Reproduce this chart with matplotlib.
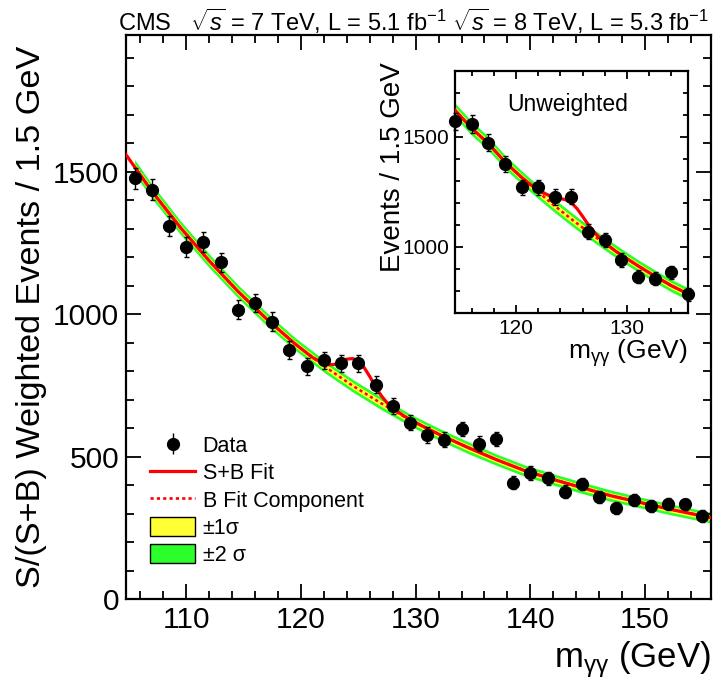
import numpy as np
import matplotlib
matplotlib.use("Agg")
import matplotlib.pyplot as plt
from matplotlib.ticker import MultipleLocator
from matplotlib.patches import Patch

plt.rcParams['font.family'] = ['Liberation Sans', 'DejaVu Sans']
plt.rcParams['mathtext.fontset'] = 'custom'
plt.rcParams['mathtext.rm'] = 'Liberation Sans'
plt.rcParams['mathtext.it'] = 'Liberation Sans:italic'
plt.rcParams['mathtext.bf'] = 'Liberation Sans:bold'

RED = '#ff0000'
YELLOW = '#ffff33'
GREEN = '#2bff2b'

# ---- main panel: S/(S+B) weighted data, 1.5 GeV bins
mass = [105.5, 107, 108.5, 110, 111.5, 113, 114.5, 116, 117.5, 119, 120.5, 122,
        123.5, 125, 126.5, 128, 129.5, 131, 132.5, 134, 135.5, 137, 138.5, 140,
        141.5, 143, 144.5, 146, 147.5, 149, 150.5, 152, 153.5, 155]
weighted = [1478, 1437, 1310, 1236, 1253, 1183, 1017, 1040, 975, 876, 818, 839,
            828, 828, 754, 679, 620, 577, 560, 598, 546, 562, 410, 443,
            425, 378, 405, 359, 320, 348, 328, 335, 334, 293]
weighted_err = [37, 37, 36, 35, 35, 34, 33, 33, 32, 31, 30, 30,
                30, 30, 29, 28, 27, 27, 26, 26, 26, 25, 24, 24,
                23, 23, 22, 22, 21, 21, 21, 20, 20, 20]

# background fit component and its uncertainty
bkg_x = [105.5, 107, 109.5, 112, 114.5, 117, 119.5, 122, 124.5, 127, 129.5, 132,
         134.5, 137, 139.5, 142, 144.5, 147, 149.5, 152, 154.5, 155.75]
bkg = [1517, 1432, 1304, 1188, 1081, 984, 896, 819, 750, 688, 630, 580,
       534, 491, 452, 421, 392, 364, 341, 318, 297, 287]
bkg_1s = [13, 13, 12, 12, 12, 12, 11, 11, 11, 11, 11, 11,
          11, 10, 10, 10, 10, 10, 10, 10, 10, 10]
bkg_2s = [26, 25, 24, 24, 23, 23, 22, 22, 22, 22, 21, 21,
          21, 20, 20, 20, 20, 20, 19, 19, 19, 19]

# signal + background fit
sb_x = [104.75, 107, 109.5, 112, 114.5, 117, 119.5, 121, 122, 122.5, 123, 123.5,
        124, 124.5, 125, 125.5, 126, 126.5, 127, 127.5, 128, 129, 130.5, 132,
        134.5, 137, 139.5, 142, 144.5, 147, 149.5, 152, 154.5, 155.75]
sb = [1560, 1432, 1304, 1188, 1081, 984, 896, 849, 827, 823, 825, 833,
      843, 845, 837, 814, 782, 746, 715, 690, 671, 643, 610, 580,
      534, 491, 452, 421, 392, 364, 341, 318, 297, 287]

# ---- inset: unweighted events
in_mass = [114.5, 116, 117.5, 119, 120.5, 122, 123.5, 125, 126.5, 128, 129.5,
           131, 132.5, 134, 135.5]
in_events = [1570, 1558, 1474, 1376, 1270, 1270, 1226, 1229, 1070, 1030, 941,
             865, 856, 885, 784]
in_err = [40, 39, 38, 37, 36, 36, 35, 35, 33, 32, 31, 29, 29, 30, 28]

in_bkg_x = [114.5, 116, 117.5, 119, 120.5, 122, 123.5, 125, 126.5, 128, 129.5,
            131, 132.5, 134, 135.5]
in_bkg = [1621, 1539, 1470, 1386, 1316, 1249, 1186, 1126, 1069, 1015, 963,
          914, 868, 824, 787]
in_bkg_1s = [16, 16, 16, 15, 15, 15, 15, 15, 15, 15, 14, 14, 14, 14, 14]
in_bkg_2s = [32, 32, 31, 31, 30, 30, 30, 30, 29, 29, 29, 28, 28, 28, 28]

in_sb_x = [114.5, 116, 117.5, 119, 120.5, 121, 122, 122.5, 123, 123.5, 124,
           124.5, 125, 125.5, 126, 126.5, 127, 127.5, 128, 129, 129.5, 131,
           132.5, 134, 135.5]
in_sb = [1621, 1539, 1470, 1386, 1316, 1296, 1257, 1244, 1234, 1226, 1220,
         1214, 1200, 1174, 1139, 1102, 1070, 1042, 1019, 980, 963, 914,
         868, 824, 787]


def draw_fit(ax, bx, b, s1, s2, sx, s, lw):
    bx = np.array(bx)
    b = np.array(b)
    ax.fill_between(bx, b - np.array(s2), b + np.array(s2), color=GREEN, lw=0, zorder=1)
    ax.fill_between(bx, b - np.array(s1), b + np.array(s1), color=YELLOW, lw=0, zorder=2)
    ax.plot(bx, b, color=RED, lw=lw * 0.8, ls=(0, (1.2, 1.2)), zorder=3)
    ax.plot(sx, s, color=RED, lw=lw, zorder=4)


def style_axes(ax, maj_len, min_len, size, pad):
    ax.tick_params(which='both', direction='in', top=True, right=True,
                   width=1.3, labelsize=size, pad=pad)
    ax.tick_params(which='major', length=maj_len)
    ax.tick_params(which='minor', length=min_len)
    for sp in ax.spines.values():
        sp.set_linewidth(1.6)


fig = plt.figure(figsize=(7.28, 6.94), dpi=100)

# main panel
ax = fig.add_axes([0.1731, 0.1362, 0.8036, 0.8134])
draw_fit(ax, bkg_x, bkg, bkg_1s, bkg_2s, sb_x, sb, 2.3)
ax.errorbar(mass, weighted, yerr=weighted_err, fmt='o', color='black', ms=8.5,
            elinewidth=1, capsize=1.8, capthick=1, zorder=5)
ax.set_xlim(104.75, 155.75)
ax.set_ylim(0, 1980)
ax.xaxis.set_major_locator(MultipleLocator(10))
ax.xaxis.set_minor_locator(MultipleLocator(2))
ax.yaxis.set_major_locator(MultipleLocator(500))
ax.yaxis.set_minor_locator(MultipleLocator(100))
style_axes(ax, 11, 6, 21.5, 5)

data_handle = ax.errorbar([], [], yerr=[], fmt='o', color='black', ms=8.5,
                          elinewidth=1, capsize=1.8)
handles = [
    data_handle,
    plt.Line2D([], [], color=RED, lw=2.3),
    plt.Line2D([], [], color=RED, lw=1.9, ls=(0, (1.2, 1.2))),
    Patch(facecolor=YELLOW, edgecolor='black', lw=1),
    Patch(facecolor=GREEN, edgecolor='black', lw=1),
]
labels = ['Data', 'S+B Fit', 'B Fit Component', '\u00b11\u03c3', '\u00b12 \u03c3']
ax.legend(handles, labels, loc='upper left', bbox_to_anchor=(0.041, 0.291),
          frameon=False, fontsize=15.5, borderpad=0, borderaxespad=0,
          handlelength=2.1, handleheight=1.0, handletextpad=0.35,
          labelspacing=0.24)

# inset
axi = fig.add_axes([0.625, 0.549, 0.320, 0.349])
draw_fit(axi, in_bkg_x, in_bkg, in_bkg_1s, in_bkg_2s, in_sb_x, in_sb, 2.3)
axi.errorbar(in_mass, in_events, yerr=in_err, fmt='o', color='black', ms=8.5,
             elinewidth=1, capsize=1.8, capthick=1, zorder=5, clip_on=False)
axi.set_xlim(114.5, 135.5)
axi.set_ylim(700, 1800)
axi.xaxis.set_major_locator(MultipleLocator(10))
axi.xaxis.set_minor_locator(MultipleLocator(2))
axi.yaxis.set_major_locator(MultipleLocator(500))
axi.yaxis.set_minor_locator(MultipleLocator(100))
style_axes(axi, 6, 3.5, 15, 4)
axi.text(0.485, 0.86, 'Unweighted', transform=axi.transAxes, ha='center',
         va='center', fontsize=16.5)

# labels
fig.text(118 / 728, 1 - 31 / 694,
         r'CMS   $\sqrt{s}$ = 7 TeV, L = 5.1 fb$^{-1}$ $\sqrt{s}$ = 8 TeV, L = 5.3 fb$^{-1}$',
         fontsize=17, ha='left', va='baseline')
fig.text(711 / 728, 1 - 667 / 694, r'm$_{\mathrm{\gamma\gamma}}$ (GeV)', fontsize=25,
         ha='right', va='baseline')
fig.text(32 / 728, 1 - 46 / 694, 'S/(S+B) Weighted Events / 1.5 GeV', fontsize=24.7,
         rotation=90, ha='center', va='top')
fig.text(688 / 728, 1 - 359 / 694, r'm$_{\mathrm{\gamma\gamma}}$ (GeV)', fontsize=19,
         ha='right', va='baseline')
fig.text(393 / 728, 1 - 62 / 694, 'Events / 1.5 GeV', fontsize=20, rotation=90,
         ha='center', va='top')

fig.savefig('out.png', dpi=100)
